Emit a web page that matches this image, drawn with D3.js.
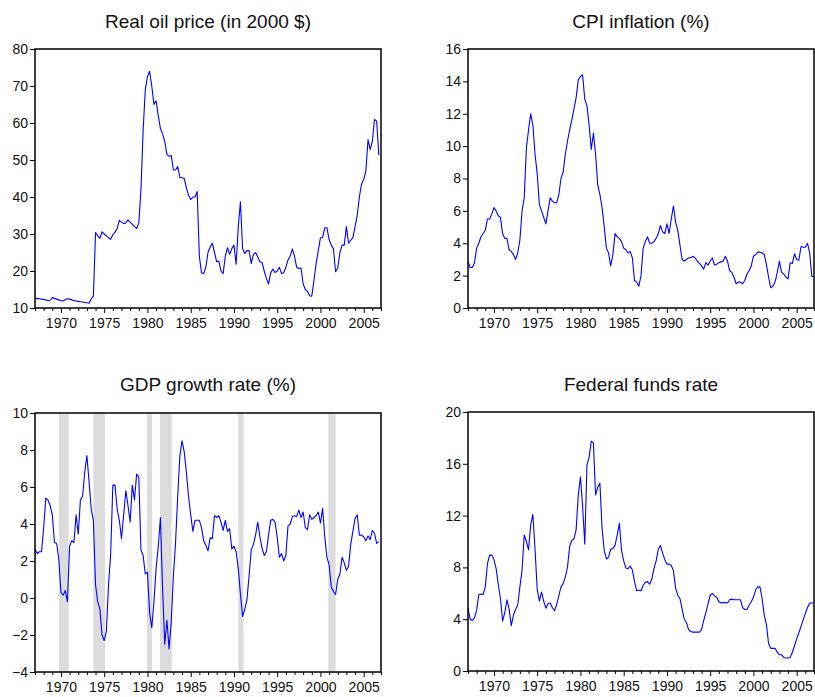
<!DOCTYPE html>
<html>
<head>
<meta charset="utf-8">
<script src="https://cdn.jsdelivr.net/npm/d3@7"></script>
<style>
  html, body { margin: 0; padding: 0; background: #fff; }
  svg { display: block; }
  text { font-family: "Liberation Sans", Arial, sans-serif; fill: #111; }
</style>
</head>
<body>
<svg id="chart" width="815" height="697"></svg>
<script>
// ---- Data (quarterly, starting 1967Q1) ----
const startYear = 1967;

const oilPrice = [
  12.5, 12.6, 12.5, 12.4,   12.3, 12.2, 12.0, 12.1,   12.8, 12.6, 12.4, 12.2,
  12.0, 11.9, 12.2, 12.5,   12.4, 12.2, 12.0, 11.9,   11.8, 11.7, 11.6, 11.5,
  11.4, 11.3, 12.5, 13.2,   30.4, 29.5, 28.8, 30.6,   30.0, 29.5, 29.0, 28.6,
  29.8, 30.5, 31.5, 33.7,   33.2, 32.8, 33.0, 33.8,   33.2, 32.6, 32.0, 31.5,
  33.0, 42.0, 58.0, 69.0,   72.5, 74.0, 70.0, 65.0,   66.0, 62.0, 58.5, 57.0,
  55.0, 51.5, 51.0, 51.2,   47.3, 47.3, 48.2, 45.3,   45.2, 45.0, 42.5, 40.5,
  39.3, 40.0, 40.0, 41.5,   24.0, 19.5, 19.3, 21.0,   25.0, 26.5, 27.5, 25.0,
  22.5, 22.7, 20.0, 19.3,   24.0, 26.3, 24.5, 26.0,   27.0, 21.8, 32.0, 38.7,
  26.0, 24.7, 25.5, 25.5,   22.0, 24.5, 25.0, 23.8,   22.5, 22.3, 20.0, 18.0,
  16.5, 19.5, 20.5, 19.6,   20.0, 21.0, 19.3, 19.5,   21.0, 23.0, 24.0, 26.0,
  24.0, 21.0, 20.7, 20.8,   16.5, 15.0, 14.5, 13.3,   13.2, 17.5, 22.0, 25.5,
  29.0, 29.0, 31.7, 31.7,   28.5, 27.0, 26.0, 19.8,   20.8, 25.0, 27.0, 27.0,
  32.0, 27.5, 28.3, 29.0,   32.0, 35.0, 40.0, 43.5,   44.7, 47.0, 55.5, 52.8,
  55.0, 61.0, 60.5, 51.3
];

const cpiInflation = [
  2.85, 2.5, 2.5, 2.8,   3.7, 4.0, 4.4, 4.6,   4.8, 5.5, 5.5, 5.8,
  6.2, 6.0, 5.7, 5.6,    4.6, 4.3, 4.3, 3.6,   3.5, 3.3, 3.0, 3.4,
  4.2, 6.0, 6.8, 9.9,    11.0, 12.0, 11.3, 9.5,   8.3, 6.4, 6.0, 5.6,
  5.2, 6.0, 6.8, 6.6,    6.5, 6.5, 7.0, 8.0,   8.4, 9.5, 10.3, 11.0,
  11.6, 12.3, 13.0, 14.1,   14.3, 14.4, 12.9, 12.5,   11.3, 9.8, 10.8, 9.5,
  7.6, 7.0, 6.2, 5.0,    3.7, 3.4, 2.6, 3.3,   4.6, 4.4, 4.3, 4.1,
  3.7, 3.6, 3.4, 3.5,    3.1, 1.7, 1.6, 1.35,  2.0, 3.7, 4.1, 4.4,
  4.0, 4.0, 4.1, 4.3,    4.6, 5.1, 4.7, 4.6,   5.2, 4.6, 5.5, 6.3,
  5.3, 4.8, 3.9, 3.0,    2.9, 3.0, 3.1, 3.1,   3.2, 3.1, 2.9, 2.75,
  2.6, 2.4, 2.8, 2.65,   2.9, 3.1, 2.65, 2.7,  2.8, 2.85, 2.9, 3.2,
  2.9, 2.3, 2.2, 1.9,    1.5, 1.6, 1.6, 1.5,   1.7, 2.1, 2.3, 2.6,
  3.2, 3.3, 3.45, 3.45,  3.4, 3.3, 2.7, 1.9,   1.25, 1.35, 1.6, 2.2,
  2.9, 2.2, 2.1, 1.9,    1.8, 2.8, 2.75, 3.35, 3.0, 2.95, 3.8, 3.75,
  3.75, 4.0, 3.4, 1.95,  1.95
];

const gdpGrowth = [
  2.65, 2.4, 2.5, 2.5,   3.8, 5.4, 5.3, 5.0,   4.5, 3.0, 2.95, 2.1,
  0.3, 0.15, 0.4, -0.2,  2.8, 3.1, 3.0, 4.5,   3.45, 5.3, 5.5, 6.8,
  7.7, 6.3, 4.8, 4.2,    0.7, -0.2, -0.6, -2.0,  -2.3, -1.8, 0.7, 2.4,
  6.1, 6.1, 4.8, 4.2,    3.2, 4.5, 5.8, 5.0,   4.1, 6.1, 5.3, 6.7,
  6.55, 2.6, 2.3, 1.3,   1.4, -0.8, -1.6, -0.2,  1.6, 2.8, 4.35, 0.5,
  -2.5, -1.2, -2.75, -1.3,  1.2, 3.0, 5.5, 7.7,  8.5, 7.9, 6.8, 5.5,
  4.5, 3.6, 4.2, 4.2,    4.2, 3.8, 3.1, 2.85,  2.55, 3.25, 3.2, 4.45,
  4.35, 4.45, 4.1, 3.65, 4.2, 3.6, 3.75, 2.65, 2.8, 2.5, 1.6, 0.2,
  -1.0, -0.6, -0.1, 1.2, 2.6, 2.9, 3.4, 4.1,   3.3, 2.7, 2.3, 2.5,
  3.4, 4.2, 4.25, 4.1,   3.3, 2.2, 2.4, 2.0,   2.3, 3.9, 4.0, 4.4,
  4.45, 4.4, 4.75, 4.35, 4.65, 3.8, 3.7, 4.5,  4.25, 4.35, 4.45, 4.65,
  4.05, 4.85, 3.3, 2.2,  1.8, 0.6, 0.35, 0.2,  1.0, 1.3, 2.2, 1.9,
  1.5, 1.7, 2.9, 3.6,    4.3, 4.5, 3.4, 3.4,   3.3, 3.1, 3.35, 3.15,
  3.65, 3.5, 2.95, 3.05
];

const fedFunds = [
  4.85, 4.0, 3.9, 4.1,   4.7, 5.9, 5.95, 5.9,  6.5, 8.3, 8.95, 8.95,
  8.6, 7.9, 6.7, 5.6,    3.85, 4.5, 5.5, 4.8,  3.5, 4.3, 4.75, 5.1,
  6.5, 7.8, 10.5, 10.0,  9.35, 11.3, 12.1, 9.4,  6.3, 5.4, 6.1, 5.4,
  4.85, 5.2, 5.25, 4.9,  4.65, 5.15, 5.8, 6.5,  6.75, 7.25, 8.0, 9.6,
  10.1, 10.2, 10.9, 13.6,  15.0, 12.7, 9.8, 15.9,  16.5, 17.75, 17.6, 13.6,
  14.2, 14.5, 11.0, 9.3,  8.65, 8.8, 9.4, 9.45,  9.7, 10.5, 11.4, 9.3,
  8.5, 7.95, 7.9, 8.1,   7.8, 6.9, 6.2, 6.25,  6.2, 6.6, 6.85, 6.9,
  6.7, 7.1, 7.9, 8.5,    9.4, 9.7, 9.1, 8.6,   8.25, 8.25, 8.15, 7.75,
  6.4, 5.85, 5.6, 4.8,   4.0, 3.75, 3.2, 3.05,  3.0, 3.0, 3.0, 3.0,
  3.2, 3.9, 4.5, 5.2,    5.85, 6.0, 5.8, 5.7,  5.35, 5.25, 5.3, 5.28,
  5.25, 5.5, 5.55, 5.5,  5.5, 5.5, 5.5, 4.9,   4.75, 4.75, 5.1, 5.35,
  5.7, 6.25, 6.5, 6.5,   5.6, 4.3, 3.6, 2.1,   1.75, 1.75, 1.75, 1.45,
  1.25, 1.25, 1.05, 1.0, 1.0, 1.05, 1.45, 1.95,  2.5, 2.95, 3.45, 3.95,
  4.45, 4.9, 5.25, 5.25, 5.25
];

// Recession periods (start, end), shown in GDP panel
const recessions = [
  [1969.75, 1970.9], [1973.75, 1975.1], [1979.95, 1980.55],
  [1981.45, 1982.8], [1990.5, 1991.1], [2000.9, 2001.75]
];

const titles = ["Real oil price (in 2000 $)", "CPI inflation (%)", "GDP growth rate (%)", "Federal funds rate"];
const yTicks = [
  [10, 20, 30, 40, 50, 60, 70, 80],
  [0, 2, 4, 6, 8, 10, 12, 14, 16],
  [-4, -2, 0, 2, 4, 6, 8, 10],
  [0, 4, 8, 12, 16, 20]
];
const yDomains = [[10, 80], [0, 16], [-4, 10], [0, 20]];
const xDomain = [1967, 2007];
const xLabelYears = [1970, 1975, 1980, 1985, 1990, 1995, 2000, 2005];

// ---- Layout ----
const panels = [
  { series: oilPrice,     x0: 35,  x1: 381, y0: 49,  y1: 308, shade: false },
  { series: cpiInflation, x0: 468, x1: 814, y0: 49,  y1: 308, shade: false },
  { series: gdpGrowth,    x0: 35,  x1: 381, y0: 413, y1: 672, shade: true },
  { series: fedFunds,     x0: 468, x1: 814, y0: 412, y1: 671, shade: false }
];
const titleY = [28, 28, 391, 391];

const svg = d3.select("#chart");

panels.forEach((p, i) => {
  const g = svg.append("g");
  const x = d3.scaleLinear().domain(xDomain).range([p.x0, p.x1]);
  const y = d3.scaleLinear().domain(yDomains[i]).range([p.y1, p.y0]);

  // recession shading
  if (p.shade) {
    g.selectAll("rect.rec").data(recessions).enter().append("rect")
      .attr("class", "rec")
      .attr("x", d => x(d[0]))
      .attr("width", d => x(d[1]) - x(d[0]))
      .attr("y", p.y0)
      .attr("height", p.y1 - p.y0)
      .attr("fill", "#dcdcdc");
  }

  // line
  const pts = p.series.map((v, k) => ({ t: startYear + k * 0.25, v }));
  g.append("path")
    .datum(pts)
    .attr("fill", "none")
    .attr("stroke", "#0000ff")
    .attr("stroke-width", 1.1)
    .attr("stroke-linejoin", "round")
    .attr("d", d3.line().x(d => x(d.t)).y(d => y(d.v)));

  // frame
  g.append("rect")
    .attr("x", p.x0).attr("y", p.y0)
    .attr("width", p.x1 - p.x0).attr("height", p.y1 - p.y0)
    .attr("fill", "none").attr("stroke", "#000").attr("stroke-width", 1.5);

  // y axis
  const ya = g.append("g")
    .attr("transform", `translate(${p.x0},0)`)
    .call(d3.axisLeft(y).tickValues(yTicks[i]).tickSize(5).tickPadding(2).tickFormat(d3.format("d")));
  ya.select(".domain").remove();
  ya.selectAll("text").style("font-size", "14px").style("fill", "#111");
  ya.selectAll("line").attr("stroke", "#000");

  // x axis: yearly ticks, labels every 5 yrs
  const years = d3.range(1967, 2008);
  const xa = g.append("g")
    .attr("transform", `translate(0,${p.y1})`)
    .call(d3.axisBottom(x).tickValues(years).tickSize(3).tickPadding(7)
      .tickFormat(d => xLabelYears.includes(d) ? String(d) : ""));
  xa.select(".domain").remove();
  xa.selectAll(".tick line").attr("stroke", "#000")
    .attr("y2", d => (d % 5 === 0 ? 5 : 3));
  xa.selectAll("text").style("font-size", "14px").style("fill", "#111");

  // title
  svg.append("text")
    .attr("x", (p.x0 + p.x1) / 2)
    .attr("y", titleY[i])
    .attr("text-anchor", "middle")
    .style("font-size", "19px")
    .text(titles[i]);
});
</script>
</body>
</html>
